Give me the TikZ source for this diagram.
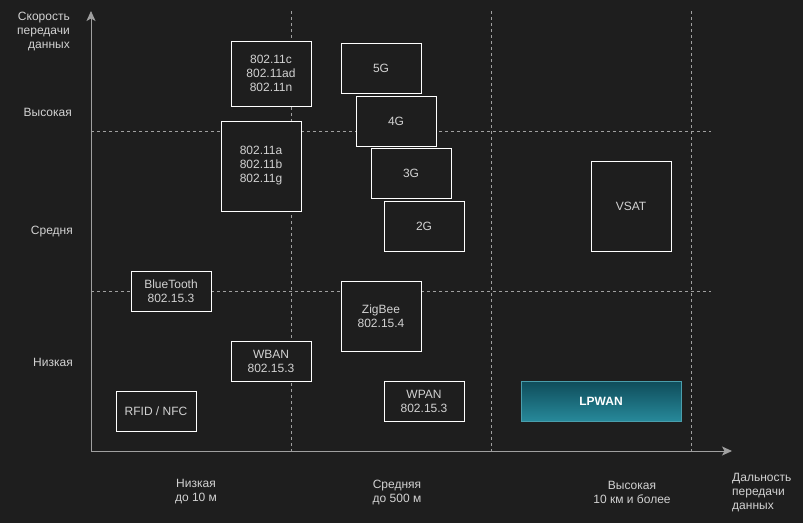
\documentclass[tikz,border=0pt]{standalone}
\usepackage{fontspec}
\setmainfont{Liberation Sans}
\usetikzlibrary{arrows.meta, calc}
\definecolor{bgdark}{HTML}{1E1E1E}
\definecolor{labelgray}{HTML}{D2D2D2}
\definecolor{axisgray}{HTML}{A0A0A0}
\definecolor{tealtop}{HTML}{0F4C5A}
\definecolor{tealbottom}{HTML}{27899A}
\definecolor{tealedge}{HTML}{4A9EAC}

\begin{document}
\begin{tikzpicture}[x=1pt, y=-1pt,
    tech/.style={draw=white, fill=bgdark, line width=0.9pt, text=labelgray,
      align=center, inner sep=0pt, minimum width=80pt,
      font=\fontsize{12}{14}\selectfont},
    axislabel/.style={text=labelgray, inner sep=0pt,
      font=\fontsize{12}{14}\selectfont},
    grid/.style={draw=axisgray, line width=0.7pt, dash pattern=on 3pt off 3pt},
    axis/.style={draw=axisgray, line width=0.9pt,
      -{Stealth[length=10pt, width=9pt, inset=2.5pt]}}]
    \fill[bgdark] (0,0) rectangle (803,523);
    \useasboundingbox (0,0) rectangle (803,523);

    % axes and grid
    \coordinate (origin) at (91,451);
    \coordinate (ytop) at (91,11);
    \coordinate (xend) at (732,451);
    \foreach \x in {291,491,691}
      \draw[grid] (\x,11) -- (\x,451);
    \foreach \y in {131,291}
      \draw[grid] (91,\y) -- (711,\y);
    \draw[axis] (origin) -- (ytop);
    \draw[axis] (origin) -- (xend);

    % axis labels
    \node[axislabel, align=right, anchor=east] (speed) at (70,32) {Скорость\\передачи\\данных};
    \node[axislabel, anchor=east] (high) at (72,112) {Высокая};
    \node[axislabel, anchor=east] (mid) at (73,232) {Средня};
    \node[axislabel, anchor=east] (low) at (73,362) {Низкая};
    \node[axislabel, align=center] (near) at (196,492) {Низкая\\до 10 м};
    \node[axislabel, align=center] (medium) at (397,492) {Средняя\\до 500 м};
    \node[axislabel, align=center] (far) at (632,492) {Высокая\\10 км и более};
    \node[axislabel, align=left, anchor=west] (range) at (732,493) {Дальность\\передачи\\данных};

    % technologies
    \node[tech, minimum height=65pt] (wifihi) at (271,73.5) {802.11c\\802.11ad\\802.11n};
    \node[tech, minimum height=90pt] (wifilo) at (261,166) {802.11a\\802.11b\\802.11g};
    \node[tech, minimum height=50pt] (gen5) at (381,68) {5G};
    \node[tech, minimum height=50pt] (gen4) at (396,121) {4G};
    \node[tech, minimum height=50pt] (gen3) at (411,173) {3G};
    \node[tech, minimum height=50pt] (gen2) at (424,226) {2G};
    \node[tech, minimum height=90pt] (vsat) at (631,206) {VSAT};
    \node[tech, minimum height=40pt] (bluetooth) at (171,291) {BlueTooth\\802.15.3};
    \node[tech, minimum height=70pt] (zigbee) at (381,316) {ZigBee\\802.15.4};
    \node[tech, minimum height=40pt] (wban) at (271,361) {WBAN\\802.15.3};
    \node[tech, minimum height=40pt] (wpan) at (424,401) {WPAN\\802.15.3};
    \node[tech, minimum height=40pt] (rfid) at (156,411) {RFID / NFC};
    \node[tech, draw=tealedge, top color=tealtop, bottom color=tealbottom,
          text=white, minimum width=160pt, minimum height=40pt,
          font=\fontsize{12}{14}\selectfont\bfseries] (lpwan) at (601,401) {LPWAN};
  \end{tikzpicture}
\end{document}
